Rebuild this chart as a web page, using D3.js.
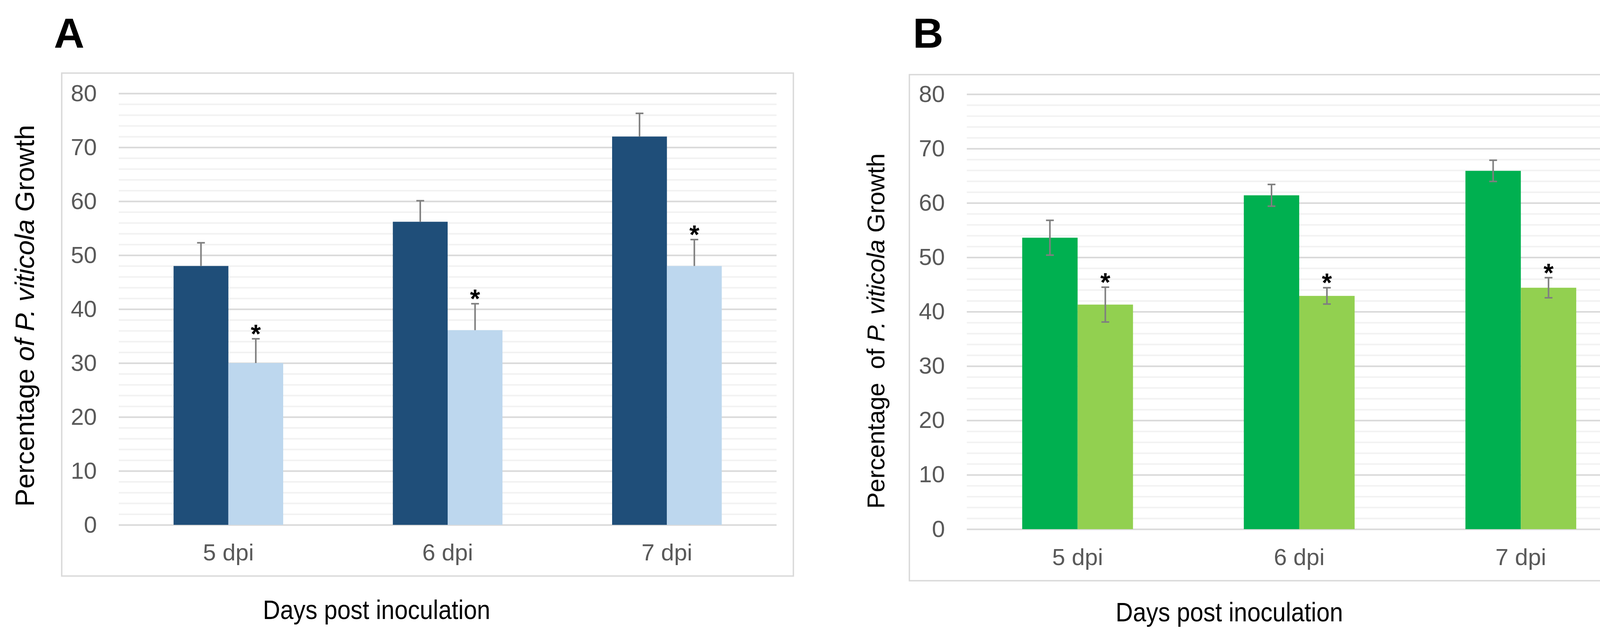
<!DOCTYPE html>
<html>
<head>
<meta charset="utf-8">
<script src="https://cdn.jsdelivr.net/npm/d3@7"></script>
<style>
  html, body { margin: 0; padding: 0; background: #fff; overflow: hidden; }
  svg { display: block; }
  text { font-family: "Liberation Sans", Arial, sans-serif; }
</style>
</head>
<body>
<svg id="chart" width="4248" height="1630"></svg>
<script>
// data
const categories = ["5 dpi", "6 dpi", "7 dpi"];
const groups = ["control", "treated"];
const yTicks = [0, 10, 20, 30, 40, 50, 60, 70, 80];

const aControl = [48.0, 56.2, 72.0];
const aControlErr = [4.3, 3.9, 4.3];
const aTreated = [30.0, 36.1, 48.0];
const aTreatedErr = [4.5, 4.9, 4.9];

const bControl = [53.6, 61.4, 65.9];
const bControlErr = [3.2, 2.0, 1.95];
const bTreated = [41.3, 42.9, 44.4];
const bTreatedErr = [3.2, 1.5, 1.85];

const significant = ["", "*"]; // marker per group

const svg = d3.select("#chart");

function makePanel(opt) {
    const g = svg.append("g");

    // outer frame
    g.append("rect")
        .attr("x", opt.frame[0])
        .attr("y", opt.frame[1])
        .attr("width", opt.frame[2] - opt.frame[0])
        .attr("height", opt.frame[3] - opt.frame[1])
        .attr("fill", "none")
        .attr("stroke", "#d9d9d9")
        .attr("stroke-width", 3.5);

    const y = d3.scaleLinear().domain([0, 80]).range([opt.y0, opt.y80]);
    const x0 = d3.scaleBand().domain(categories).range([opt.left, opt.right]);
    const x1 = d3.scaleBand().domain(groups).range([0, x0.bandwidth()]).paddingOuter(1);
    const width = opt.right - opt.left;

    // minor grid every 2
    const minor = g.append("g")
        .attr("transform", `translate(${opt.left},0)`)
        .call(d3.axisLeft(y).tickValues(d3.range(2, 80, 2).filter((v) => v % 10 !== 0)).tickSize(-width).tickFormat(""));
    minor.selectAll("line").attr("stroke", "#f2f2f2").attr("stroke-width", 4);
    minor.select(".domain").remove();

    // major grid + labels
    const major = g.append("g")
        .attr("transform", `translate(${opt.left},0)`)
        .call(d3.axisLeft(y).tickValues(yTicks).tickSize(-width).tickPadding(56));
    major.selectAll("line").attr("stroke", "#d9d9d9").attr("stroke-width", 4);
    major.select(".domain").remove();
    major.selectAll("text")
        .attr("dy", null)
        .attr("y", 19)
        .attr("fill", "#595959")
        .style("font-size", "60px")
        .style("font-family", '"Liberation Sans", Arial, sans-serif');

    // category labels
    const xa = g.append("g")
        .attr("transform", `translate(0,${opt.y0})`)
        .call(d3.axisBottom(x0).tickSize(0));
    xa.select(".domain").remove();
    xa.selectAll("text")
        .attr("dy", null)
        .attr("y", opt.labelDy)
        .attr("fill", "#595959")
        .style("font-size", "60px")
        .style("font-family", '"Liberation Sans", Arial, sans-serif');

    const rows = categories.map((c, i) => ({
        cat: c,
        bars: [
            { key: "control", v: opt.control[i], e: opt.controlErr[i], color: opt.colors[0] },
            { key: "treated", v: opt.treated[i], e: opt.treatedErr[i], color: opt.colors[1] },
        ],
    }));

    const cat = g.selectAll(".cat")
        .data(rows)
        .enter()
        .append("g")
        .attr("transform", (d) => `translate(${x0(d.cat)},0)`);

    const bar = cat.selectAll(".bar")
        .data((d) => d.bars)
        .enter()
        .append("g");

    bar.append("rect")
        .attr("x", (d) => x1(d.key))
        .attr("y", (d) => y(d.v))
        .attr("width", x1.bandwidth())
        .attr("height", (d) => y(0) - y(d.v))
        .attr("fill", (d) => d.color);

    // error bars
    const cx = (d) => x1(d.key) + x1.bandwidth() / 2;
    const lo = (d) => (opt.bothWays ? y(d.v - d.e) : y(d.v));
    bar.append("line")
        .attr("x1", cx).attr("x2", cx)
        .attr("y1", lo)
        .attr("y2", (d) => y(d.v + d.e))
        .attr("stroke", "#7f7f7f")
        .attr("stroke-width", 4);
    bar.append("line")
        .attr("x1", (d) => cx(d) - 10).attr("x2", (d) => cx(d) + 10)
        .attr("y1", (d) => y(d.v + d.e)).attr("y2", (d) => y(d.v + d.e))
        .attr("stroke", "#7f7f7f")
        .attr("stroke-width", 4);
    if (opt.bothWays) {
        bar.append("line")
            .attr("x1", (d) => cx(d) - 10).attr("x2", (d) => cx(d) + 10)
            .attr("y1", lo).attr("y2", lo)
            .attr("stroke", "#7f7f7f")
            .attr("stroke-width", 4);
    }

    // significance stars
    bar.append("text")
        .attr("x", cx)
        .attr("y", (d) => y(d.v + d.e) + 10)
        .attr("text-anchor", "middle")
        .style("font-size", "66px")
        .style("font-weight", "bold")
        .attr("fill", "#000")
        .text((d) => significant[groups.indexOf(d.key)]);

    // panel letter
    g.append("text")
        .attr("x", opt.letterX)
        .attr("y", 122)
        .style("font-size", "108px")
        .style("font-weight", "bold")
        .text(opt.letter);

    // x title
    g.append("text")
        .attr("x", opt.xTitle[0])
        .attr("y", opt.xTitle[1])
        .attr("textLength", opt.xTitle[2])
        .attr("lengthAdjust", "spacingAndGlyphs")
        .style("font-size", "68px")
        .text("Days post inoculation");

    // y title
    const yt = g.append("text")
        .attr("transform", `translate(${opt.yTitle[0]},${opt.yTitle[1]}) rotate(-90)`)
        .attr("text-anchor", "middle")
        .style("font-size", opt.yTitle[2] + "px")
        .style("white-space", "pre");
    opt.yParts.forEach((p) => {
        yt.append("tspan").style("font-style", p[1] ? "italic" : "normal").text(p[0]);
    });
}

makePanel({
    letter: "A",
    letterX: 138,
    frame: [158, 187, 2031, 1474],
    left: 304, right: 1988, y0: 1343, y80: 239,
    labelDy: 91,
    control: aControl, controlErr: aControlErr,
    treated: aTreated, treatedErr: aTreatedErr,
    colors: ["#1f4e79", "#bdd7ee"],
    bothWays: false,
    xTitle: [673, 1584, 582],
    yTitle: [87, 808, 69],
    yParts: [["Percentage ", false], ["of P. viticola", true], [" Growth", false]],
});

makePanel({
    letter: "B",
    letterX: 2337,
    frame: [2328, 191, 4217, 1486],
    left: 2475, right: 4177, y0: 1354, y80: 241,
    labelDy: 92,
    control: bControl, controlErr: bControlErr,
    treated: bTreated, treatedErr: bTreatedErr,
    colors: ["#00b050", "#92d050"],
    bothWays: true,
    xTitle: [2856, 1590, 582],
    yTitle: [2264, 847, 63],
    yParts: [["Percentage  of ", false], ["P. viticola", true], [" Growth", false]],
});
</script>
</body>
</html>
